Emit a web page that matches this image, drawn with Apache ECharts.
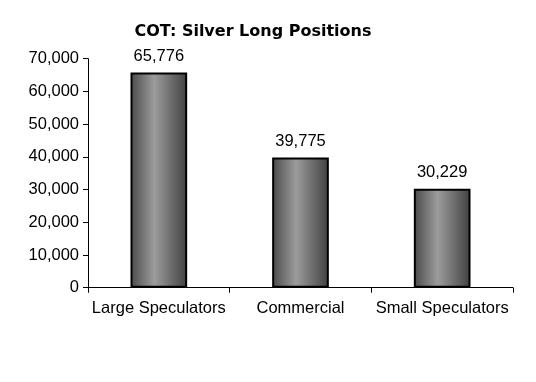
<!DOCTYPE html>
<html><head><meta charset="utf-8">
<script src="https://cdn.jsdelivr.net/npm/echarts@6/dist/echarts.min.js"></script>
<style>html,body{margin:0;padding:0;background:#fff}#c{width:536px;height:382px}</style>
</head><body><div id="c"></div>
<script>
const categories = ['Large Speculators', 'Commercial', 'Small Speculators'];
const values = [65776, 39775, 30229];
const yTicks = [0, 10000, 20000, 30000, 40000, 50000, 60000, 70000];
const title = 'COT: Silver Long Positions';

const chart = echarts.init(document.getElementById('c'), null, {renderer: 'canvas'});
const fmt = v => v.toLocaleString('en-US');
chart.setOption({
  animation: false,
  title: {text: title, left: 248, textAlign: 'center', top: 19,
    textStyle: {fontFamily: 'DejaVu Sans', fontWeight: 'bold', fontSize: 16, color: '#000'}},
  grid: {left: 88, right: 23, top: 58.7, bottom: 94.3},
  xAxis: {type: 'category', data: categories,
    axisLine: {lineStyle: {color: '#000', width: 1}},
    axisTick: {show: true, length: 5, lineStyle: {color: '#000'}},
    axisLabel: {interval: 0, color: '#000', fontFamily: 'Liberation Sans', fontSize: 16.5, margin: 12}},
  yAxis: {type: 'value', min: yTicks[0], max: yTicks[yTicks.length-1], interval: 10000,
    axisLine: {show: true, lineStyle: {color: '#000', width: 1}},
    axisTick: {show: true, length: 5, lineStyle: {color: '#000'}},
    splitLine: {show: false},
    axisLabel: {color: '#000', fontFamily: 'Liberation Sans', fontSize: 16.5, margin: 9, formatter: fmt}},
  series: [{type: 'bar', data: values, barWidth: '40%',
    itemStyle: {borderColor: '#000', borderWidth: 2,
      color: new echarts.graphic.LinearGradient(0, 0, 1, 0, [
        {offset: 0, color: '#4a4a4a'}, {offset: 0.42, color: '#9c9c9c'}, {offset: 1, color: '#404040'}])},
    label: {show: true, position: 'top', distance: 8, color: '#000',
      fontFamily: 'Liberation Sans', fontSize: 16.5, formatter: p => fmt(p.value)}}]
});
</script></body></html>
